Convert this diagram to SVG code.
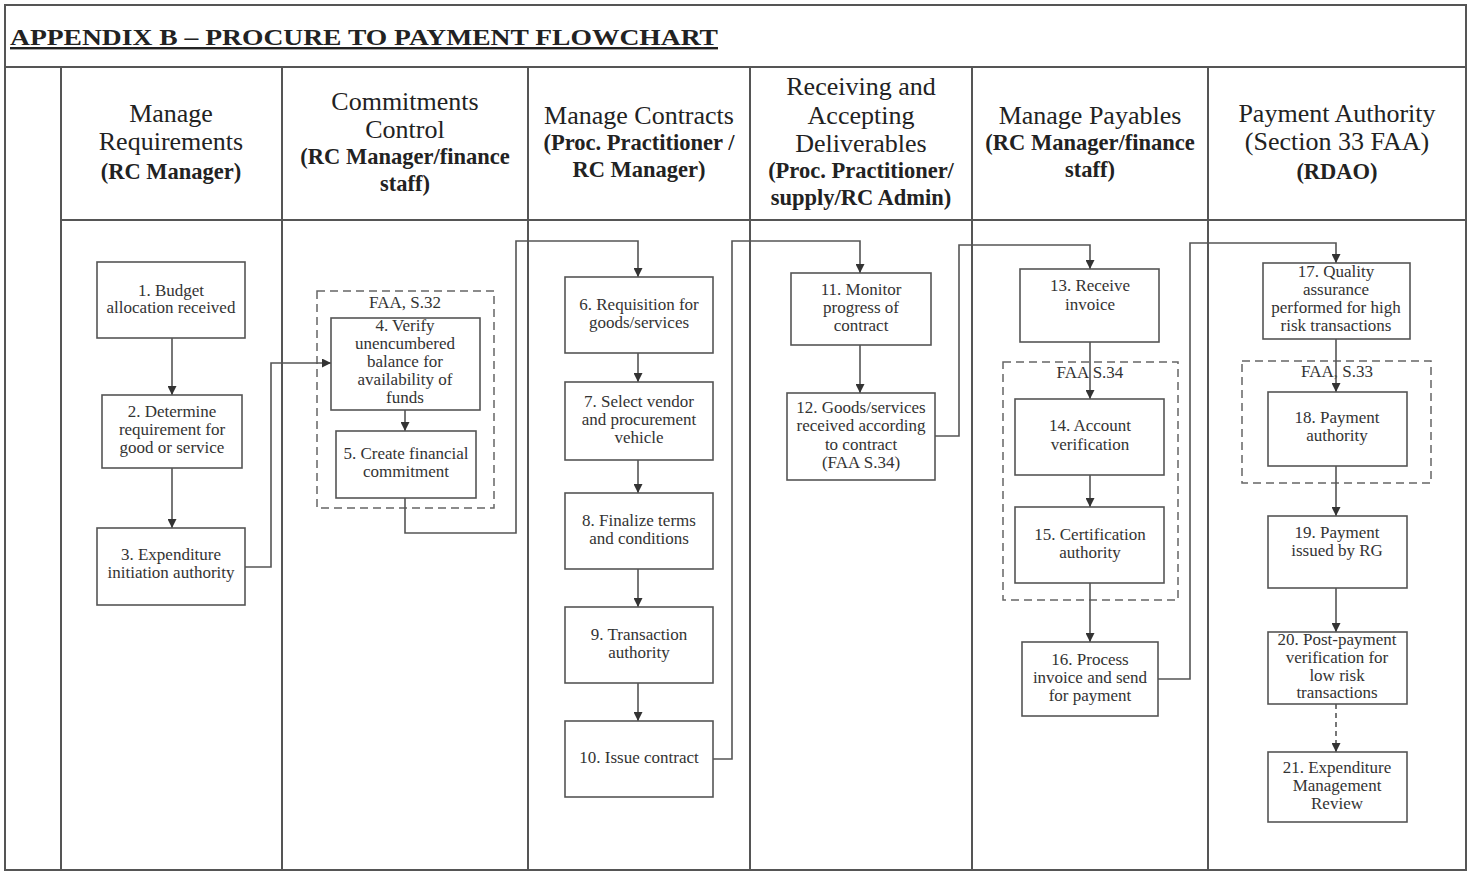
<svg xmlns="http://www.w3.org/2000/svg" width="1471" height="880" viewBox="0 0 1471 880">
<style>
.frame{fill:none;stroke:#555;stroke-width:2}
.box{fill:#fff;stroke:#555;stroke-width:1.6}
.grp{fill:none;stroke:#666;stroke-width:1.5;stroke-dasharray:8,5}
.ln{fill:none;stroke:#555;stroke-width:1.6}
.dash{stroke-dasharray:5,4}
text{font-family:"Liberation Serif","Times New Roman",serif;fill:#333;text-anchor:middle}
.nt{font-size:17px}
.hr{font-size:26px;fill:#222}
.hb{font-size:22.5px;font-weight:bold;fill:#222}
.title{font-size:24px;font-weight:bold;fill:#222;text-anchor:start;text-decoration:underline}
</style>
<defs>
<marker id="ah" viewBox="0 0 10 10" refX="10" refY="5" markerWidth="9" markerHeight="9" markerUnits="userSpaceOnUse" orient="auto">
<path d="M0,0 L10,5 L0,10 Z" fill="#333"/>
</marker>
</defs>
<rect width="1471" height="880" fill="#fff"/>
<g id="frame">
<rect class="frame" x="5" y="5" width="1461" height="865"/>
<line class="frame" x1="5" y1="67" x2="1466" y2="67"/>
<line class="frame" x1="61" y1="67" x2="61" y2="870"/>
<line class="frame" x1="61" y1="220" x2="1466" y2="220"/>
<line class="frame" x1="282" y1="67" x2="282" y2="870"/>
<line class="frame" x1="528" y1="67" x2="528" y2="870"/>
<line class="frame" x1="750" y1="67" x2="750" y2="870"/>
<line class="frame" x1="972" y1="67" x2="972" y2="870"/>
<line class="frame" x1="1208" y1="67" x2="1208" y2="870"/>
<text class="title" x="10" y="45" textLength="708" lengthAdjust="spacingAndGlyphs">APPENDIX B – PROCURE TO PAYMENT FLOWCHART</text>
</g>
<g id="headers">
<text class="hr" x="171" y="122">Manage</text>
<text class="hr" x="171" y="150">Requirements</text>
<text class="hb" x="171" y="179">(RC Manager)</text>
<text class="hr" x="405" y="110">Commitments</text>
<text class="hr" x="405" y="138">Control</text>
<text class="hb" x="405" y="164">(RC Manager/finance</text>
<text class="hb" x="405" y="191">staff)</text>
<text class="hr" x="639" y="124">Manage Contracts</text>
<text class="hb" x="639" y="150">(Proc. Practitioner /</text>
<text class="hb" x="639" y="177">RC Manager)</text>
<text class="hr" x="861" y="95">Receiving and</text>
<text class="hr" x="861" y="124">Accepting</text>
<text class="hr" x="861" y="152">Deliverables</text>
<text class="hb" x="861" y="178">(Proc. Practitioner/</text>
<text class="hb" x="861" y="205">supply/RC Admin)</text>
<text class="hr" x="1090" y="124">Manage Payables</text>
<text class="hb" x="1090" y="150">(RC Manager/finance</text>
<text class="hb" x="1090" y="177">staff)</text>
<text class="hr" x="1337" y="122">Payment Authority</text>
<text class="hr" x="1337" y="150">(Section 33 FAA)</text>
<text class="hb" x="1337" y="179">(RDAO)</text>
</g>
<g id="groups">
<g id="faa32"><rect class="grp" x="317" y="291" width="177" height="217"/><text class="nt" x="405" y="308">FAA, S.32</text></g>
<g id="faa34"><rect class="grp" x="1003" y="362" width="175" height="238"/><text class="nt" x="1090" y="378">FAA S.34</text></g>
<g id="faa33"><rect class="grp" x="1242" y="361" width="189" height="122"/><text class="nt" x="1337" y="377">FAA, S.33</text></g>
</g>
<g id="connectors">
<line class="ln" x1="172" y1="338" x2="172" y2="395" marker-end="url(#ah)"/>
<line class="ln" x1="172" y1="468" x2="172" y2="528" marker-end="url(#ah)"/>
<polyline class="ln" points="245,567 271,567 271,363 331,363" marker-end="url(#ah)"/>
<line class="ln" x1="405" y1="410" x2="405" y2="431" marker-end="url(#ah)"/>
<polyline class="ln" points="405,498 405,533 516,533 516,241 638,241 638,277" marker-end="url(#ah)"/>
<line class="ln" x1="638" y1="353" x2="638" y2="382" marker-end="url(#ah)"/>
<line class="ln" x1="638" y1="460" x2="638" y2="493" marker-end="url(#ah)"/>
<line class="ln" x1="638" y1="569" x2="638" y2="607" marker-end="url(#ah)"/>
<line class="ln" x1="638" y1="683" x2="638" y2="721" marker-end="url(#ah)"/>
<polyline class="ln" points="713,759 732,759 732,241 860,241 860,273" marker-end="url(#ah)"/>
<line class="ln" x1="860" y1="345" x2="860" y2="393" marker-end="url(#ah)"/>
<polyline class="ln" points="935,436 959,436 959,245 1090,245 1090,269" marker-end="url(#ah)"/>
<line class="ln" x1="1090" y1="342" x2="1090" y2="399" marker-end="url(#ah)"/>
<line class="ln" x1="1090" y1="475" x2="1090" y2="507" marker-end="url(#ah)"/>
<line class="ln" x1="1090" y1="583" x2="1090" y2="642" marker-end="url(#ah)"/>
<polyline class="ln" points="1158,679 1190,679 1190,243 1336,243 1336,263" marker-end="url(#ah)"/>
<line class="ln" x1="1336" y1="339" x2="1336" y2="392" marker-end="url(#ah)"/>
<line class="ln" x1="1336" y1="466" x2="1336" y2="516" marker-end="url(#ah)"/>
<line class="ln" x1="1336" y1="588" x2="1336" y2="632" marker-end="url(#ah)"/>
<line class="ln dash" x1="1336" y1="704" x2="1336" y2="752" marker-end="url(#ah)"/>
</g>
<g id="n1"><rect class="box" x="97" y="262" width="148" height="76"/><text class="nt" x="171" y="296">1. Budget</text><text class="nt" x="171" y="313">allocation received</text></g>
<g id="n2"><rect class="box" x="102" y="395" width="140" height="73"/><text class="nt" x="172" y="417">2. Determine</text><text class="nt" x="172" y="435">requirement for</text><text class="nt" x="172" y="453">good or service</text></g>
<g id="n3"><rect class="box" x="97" y="528" width="148" height="77"/><text class="nt" x="171" y="560">3. Expenditure</text><text class="nt" x="171" y="578">initiation authority</text></g>
<g id="n4"><rect class="box" x="331" y="318" width="149" height="92"/><text class="nt" x="405" y="331">4. Verify</text><text class="nt" x="405" y="349">unencumbered</text><text class="nt" x="405" y="367">balance for</text><text class="nt" x="405" y="385">availability of</text><text class="nt" x="405" y="403">funds</text></g>
<g id="n5"><rect class="box" x="336" y="431" width="140" height="67"/><text class="nt" x="406" y="459">5. Create financial</text><text class="nt" x="406" y="477">commitment</text></g>
<g id="n6"><rect class="box" x="565" y="277" width="148" height="76"/><text class="nt" x="639" y="310">6. Requisition for</text><text class="nt" x="639" y="328">goods/services</text></g>
<g id="n7"><rect class="box" x="565" y="382" width="148" height="78"/><text class="nt" x="639" y="407">7. Select vendor</text><text class="nt" x="639" y="425">and procurement</text><text class="nt" x="639" y="443">vehicle</text></g>
<g id="n8"><rect class="box" x="565" y="493" width="148" height="76"/><text class="nt" x="639" y="526">8. Finalize terms</text><text class="nt" x="639" y="544">and conditions</text></g>
<g id="n9"><rect class="box" x="565" y="607" width="148" height="76"/><text class="nt" x="639" y="640">9. Transaction</text><text class="nt" x="639" y="658">authority</text></g>
<g id="n10"><rect class="box" x="565" y="721" width="148" height="76"/><text class="nt" x="639" y="763">10. Issue contract</text></g>
<g id="n11"><rect class="box" x="791" y="273" width="140" height="72"/><text class="nt" x="861" y="295">11. Monitor</text><text class="nt" x="861" y="313">progress of</text><text class="nt" x="861" y="331">contract</text></g>
<g id="n12"><rect class="box" x="787" y="393" width="148" height="87"/><text class="nt" x="861" y="413">12. Goods/services</text><text class="nt" x="861" y="431">received according</text><text class="nt" x="861" y="450">to contract</text><text class="nt" x="861" y="468">(FAA S.34)</text></g>
<g id="n13"><rect class="box" x="1020" y="269" width="139" height="73"/><text class="nt" x="1090" y="291">13. Receive</text><text class="nt" x="1090" y="310">invoice</text></g>
<g id="n14"><rect class="box" x="1015" y="399" width="149" height="76"/><text class="nt" x="1090" y="431">14. Account</text><text class="nt" x="1090" y="450">verification</text></g>
<g id="n15"><rect class="box" x="1015" y="507" width="149" height="76"/><text class="nt" x="1090" y="540">15. Certification</text><text class="nt" x="1090" y="558">authority</text></g>
<g id="n16"><rect class="box" x="1022" y="642" width="136" height="74"/><text class="nt" x="1090" y="665">16. Process</text><text class="nt" x="1090" y="683">invoice and send</text><text class="nt" x="1090" y="701">for payment</text></g>
<g id="n17"><rect class="box" x="1263" y="263" width="147" height="76"/><text class="nt" x="1336" y="277">17. Quality</text><text class="nt" x="1336" y="295">assurance</text><text class="nt" x="1336" y="313">performed for high</text><text class="nt" x="1336" y="331">risk transactions</text></g>
<g id="n18"><rect class="box" x="1268" y="392" width="139" height="74"/><text class="nt" x="1337" y="423">18. Payment</text><text class="nt" x="1337" y="441">authority</text></g>
<g id="n19"><rect class="box" x="1268" y="516" width="139" height="72"/><text class="nt" x="1337" y="538">19. Payment</text><text class="nt" x="1337" y="556">issued by RG</text></g>
<g id="n20"><rect class="box" x="1268" y="632" width="139" height="72"/><text class="nt" x="1337" y="645">20. Post-payment</text><text class="nt" x="1337" y="663">verification for</text><text class="nt" x="1337" y="681">low risk</text><text class="nt" x="1337" y="698">transactions</text></g>
<g id="n21"><rect class="box" x="1268" y="752" width="139" height="70"/><text class="nt" x="1337" y="773">21. Expenditure</text><text class="nt" x="1337" y="791">Management</text><text class="nt" x="1337" y="809">Review</text></g>
</svg>
